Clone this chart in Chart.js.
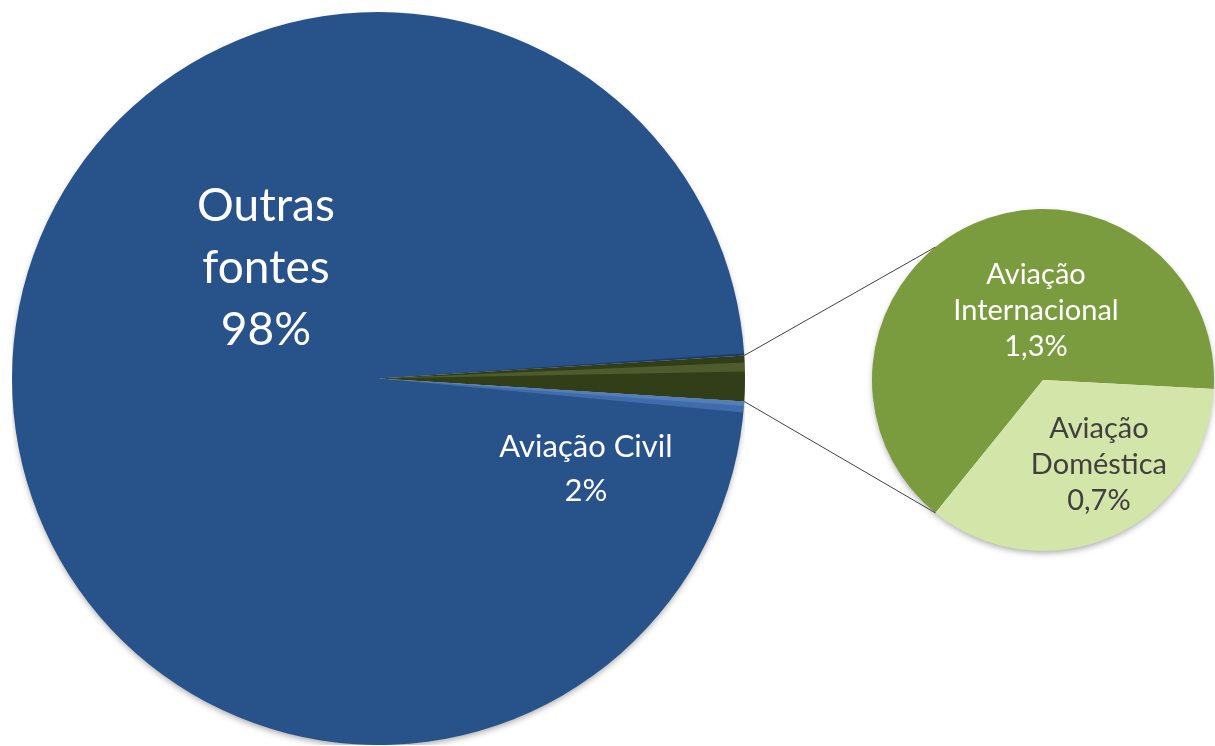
<!DOCTYPE html>
<html>
<head>
<meta charset="utf-8">
<script src="https://cdn.jsdelivr.net/npm/chart.js@4.4.0/dist/chart.umd.min.js"></script>
<style>
html, body { margin: 0; padding: 0; background: #fff; overflow: hidden; }
body { width: 1215px; height: 746px; position: relative; }
#main-wrap { position: absolute; left: 12px; top: 12px; width: 733px; height: 733px; }
#sub-wrap { position: absolute; left: 700px; top: 0; width: 515px; height: 746px; }
</style>
</head>
<body>
<div id="main-wrap"><canvas id="main-chart"></canvas></div>
<div id="sub-wrap"><canvas id="sub-chart"></canvas></div>
<script>
// main pie
const mainLabels = [['Outras', 'fontes'], ['Aviação Civil']];
const mainValues = [98, 2];
const mainColors = ['#28528A', '#323E17'];

// breakdown of "Aviação Civil"
const subLabels = [['Aviação', 'Internacional'], ['Aviação', 'Doméstica']];
const subValues = [1.3, 0.7];
const subColors = ['#7A9C3F', '#D3E5A8'];

const pct = v => String(v).replace('.', ',') + '%';

// soft drop shadow under the whole pie
const pieShadow = {
    id: 'pieShadow',
    beforeDatasetsDraw(chart) {
        const arc = chart.getDatasetMeta(0).data[0];
        if (!arc) return;
        const ctx = chart.ctx;
        ctx.save();
        ctx.shadowColor = 'rgba(0,0,0,0.35)';
        ctx.shadowBlur = 6;
        ctx.shadowOffsetY = 3;
        ctx.fillStyle = '#fff';
        ctx.beginPath();
        ctx.arc(arc.x, arc.y, arc.outerRadius - 1, 0, Math.PI * 2);
        ctx.fill();
        ctx.restore();
    }
};

// rough imitation of the bevel: light strip inside the small slice and under it
const bevel = {
    id: 'bevel',
    afterDatasetsDraw(chart) {
        const arc = chart.getDatasetMeta(0).data[1];
        const ctx = chart.ctx;
        const span = arc.endAngle - arc.startAngle;
        const wedge = (a0, a1, color) => {
            ctx.beginPath();
            ctx.moveTo(arc.x, arc.y);
            ctx.arc(arc.x, arc.y, arc.outerRadius, a0, a1);
            ctx.closePath();
            ctx.fillStyle = color;
            ctx.fill();
        };
        ctx.save();
        wedge(arc.startAngle + span * 0.15, arc.startAngle + span * 0.35, 'rgba(150,170,100,0.28)');
        wedge(arc.endAngle, arc.endAngle + 0.03, 'rgba(95,140,210,0.45)');
        wedge(arc.endAngle, arc.endAngle + 0.012, 'rgba(110,155,220,0.4)');
        wedge(arc.startAngle - 0.006, arc.startAngle, 'rgba(20,40,70,0.5)');
        ctx.restore();
    }
};

const sliceLabels = {
    id: 'sliceLabels',
    afterDatasetsDraw(chart, args, opts) {
        const ctx = chart.ctx;
        const ds = chart.data.datasets[0];
        chart.getDatasetMeta(0).data.forEach((arc, i) => {
            const p = opts.places[i];
            const cx = arc.x + p[0] * arc.outerRadius;
            const cy = arc.y + p[1] * arc.outerRadius;
            const lines = chart.data.labels[i].concat(pct(ds.data[i]));
            ctx.save();
            ctx.font = opts.fonts[i];
            ctx.fillStyle = opts.colors[i];
            ctx.textAlign = 'center';
            ctx.textBaseline = 'middle';
            lines.forEach((t, k) => {
                ctx.fillText(t, cx, cy + (k - (lines.length - 1) / 2) * opts.lineHeights[i]);
            });
            ctx.restore();
        });
    }
};

const baseOptions = {
    responsive: true,
    maintainAspectRatio: false,
    animation: false,
    events: [],
    plugins: { legend: { display: false }, tooltip: { enabled: false } }
};

const mainChart = new Chart(document.getElementById('main-chart'), {
    type: 'pie',
    data: {
        labels: mainLabels,
        datasets: [{ data: mainValues, backgroundColor: mainColors, borderWidth: 0 }]
    },
    options: {
        ...baseOptions,
        rotation: 90 + 3.6,
        plugins: {
            ...baseOptions.plugins,
            sliceLabels: {
                places: [[-0.307, -0.301], [0.566, 0.247]],
                fonts: ['46px Lato', '31px Lato'],
                lineHeights: [62, 44],
                colors: ['#ffffff', '#ffffff']
            }
        }
    },
    plugins: [pieShadow, bevel, sliceLabels]
});

// lines from the small slice to the second pie
const connectors = {
    id: 'connectors',
    afterDatasetsDraw(chart) {
        const m = mainChart.getDatasetMeta(0).data[1];
        const s = chart.getDatasetMeta(0).data[1];
        const mr = mainChart.canvas.getBoundingClientRect();
        const sr = chart.canvas.getBoundingClientRect();
        const ox = mr.left - sr.left, oy = mr.top - sr.top;
        const R = m.outerRadius, r = s.outerRadius;
        const b = s.endAngle;
        const from = [m.startAngle, m.endAngle].map(a => [m.x + R * Math.cos(a) + ox, m.y + R * Math.sin(a) + oy]);
        const to = [-b, b].map(a => [s.x + r * Math.cos(a), s.y + r * Math.sin(a)]);
        const ctx = chart.ctx;
        ctx.save();
        ctx.strokeStyle = '#404040';
        ctx.lineWidth = 1;
        for (let i = 0; i < 2; i++) {
            ctx.beginPath();
            ctx.moveTo(from[i][0], from[i][1]);
            ctx.lineTo(to[i][0], to[i][1]);
            ctx.stroke();
        }
        ctx.restore();
    }
};

new Chart(document.getElementById('sub-chart'), {
    type: 'pie',
    data: {
        labels: subLabels,
        datasets: [{ data: subValues, backgroundColor: subColors, borderWidth: 0 }]
    },
    options: {
        ...baseOptions,
        rotation: 219,
        layout: { padding: { left: 172, right: 1, top: 209, bottom: 195 } },
        plugins: {
            ...baseOptions.plugins,
            sliceLabels: {
                places: [[-0.041, -0.404], [0.327, 0.497]],
                fonts: ['29px Lato', '29px Lato'],
                lineHeights: [36, 36],
                colors: ['#ffffff', '#404040']
            }
        }
    },
    plugins: [pieShadow, connectors, sliceLabels]
});
</script>
</body>
</html>
